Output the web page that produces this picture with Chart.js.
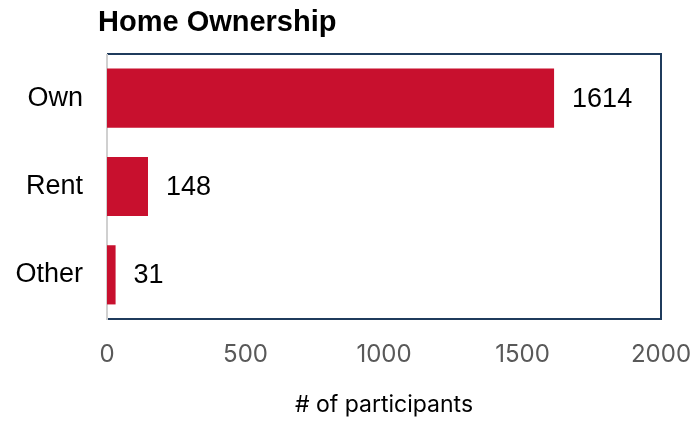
<!DOCTYPE html>
<html lang="en">
<head>
    <meta charset="UTF-8">
    <title>Home Ownership</title>
    <script src="https://cdn.jsdelivr.net/npm/chart.js"></script>
    <style>
        body {
            margin: 0;
            padding: 0;
            background-color: #ffffff;
        }
    </style>
</head>
<body>
    <canvas id="myChart" width="698" height="423"></canvas>

    <script>
        // Data
        const categories = ['Own', 'Rent', 'Other'];
        const participants = [1614, 148, 31];
        const xTicks = [0, 500, 1000, 1500, 2000];

        const titleText = 'Home Ownership';
        const barColor = '#C8102E';

        // Frame round the plot: navy on top/right/bottom, grey axis line on the left
        const framePlugin = {
            id: 'frame',
            beforeDatasetsDraw(chart) {
                const { ctx, chartArea: a } = chart;
                ctx.save();
                ctx.strokeStyle = '#1F3B5C';
                ctx.lineWidth = 2;
                ctx.beginPath();
                ctx.moveTo(a.left, a.top);
                ctx.lineTo(a.right, a.top);
                ctx.lineTo(a.right, a.bottom);
                ctx.lineTo(a.left, a.bottom);
                ctx.stroke();
                ctx.strokeStyle = '#D0D0D0';
                ctx.beginPath();
                ctx.moveTo(a.left, a.top);
                ctx.lineTo(a.left, a.bottom + 1);
                ctx.stroke();
                ctx.restore();
            }
        };

        // Value labels next to each bar, plus the title above the plot
        const labelsPlugin = {
            id: 'valueLabels',
            afterDatasetsDraw(chart) {
                const { ctx, chartArea: a } = chart;
                const meta = chart.getDatasetMeta(0);
                ctx.save();
                ctx.fillStyle = '#000000';
                ctx.font = '27px "Liberation Sans", Arial, sans-serif';
                ctx.textAlign = 'left';
                ctx.textBaseline = 'middle';
                meta.data.forEach((bar, i) => {
                    ctx.fillText(String(participants[i]), bar.x + 18, bar.y + 1);
                });
                ctx.font = 'bold 29px "Liberation Sans", Arial, sans-serif';
                ctx.fillText(titleText, a.left - 9, 23);
                ctx.restore();
            }
        };

        const ctx = document.getElementById('myChart').getContext('2d');

        const myChart = new Chart(ctx, {
            type: 'bar',
            data: {
                labels: categories,
                datasets: [{
                    data: participants,
                    backgroundColor: barColor,
                    borderWidth: 0,
                    categoryPercentage: 1,
                    barPercentage: 0.67
                }]
            },
            options: {
                indexAxis: 'y',
                responsive: false,
                animation: false,
                layout: {
                    padding: { top: 54, right: 37, bottom: 0, left: 0 }
                },
                plugins: {
                    legend: { display: false },
                    tooltip: { enabled: false }
                },
                scales: {
                    x: {
                        min: xTicks[0],
                        max: xTicks[xTicks.length - 1],
                        afterFit(scale) {
                            scale.height = 104;
                            scale.paddingLeft = 0;
                            scale.paddingRight = 0;
                        },
                        grid: { display: false, drawTicks: false },
                        border: { display: false },
                        ticks: {
                            stepSize: xTicks[1] - xTicks[0],
                            callback: v => String(v),
                            color: '#595959',
                            padding: 21,
                            maxRotation: 0,
                            font: { family: 'Inter, "Open Sans", sans-serif', size: 24 }
                        },
                        title: {
                            display: true,
                            text: '# of participants',
                            color: '#000000',
                            padding: { top: 0, bottom: 4 },
                            font: { family: 'Inter, "Open Sans", sans-serif', size: 23 }
                        }
                    },
                    y: {
                        afterFit(scale) {
                            scale.width = 107;
                        },
                        grid: { display: false, drawTicks: false },
                        border: { display: false },
                        ticks: {
                            color: '#000000',
                            padding: 24,
                            font: { family: '"Liberation Sans", Arial, sans-serif', size: 27 }
                        }
                    }
                }
            },
            plugins: [framePlugin, labelsPlugin]
        });
    </script>
</body>
</html>
